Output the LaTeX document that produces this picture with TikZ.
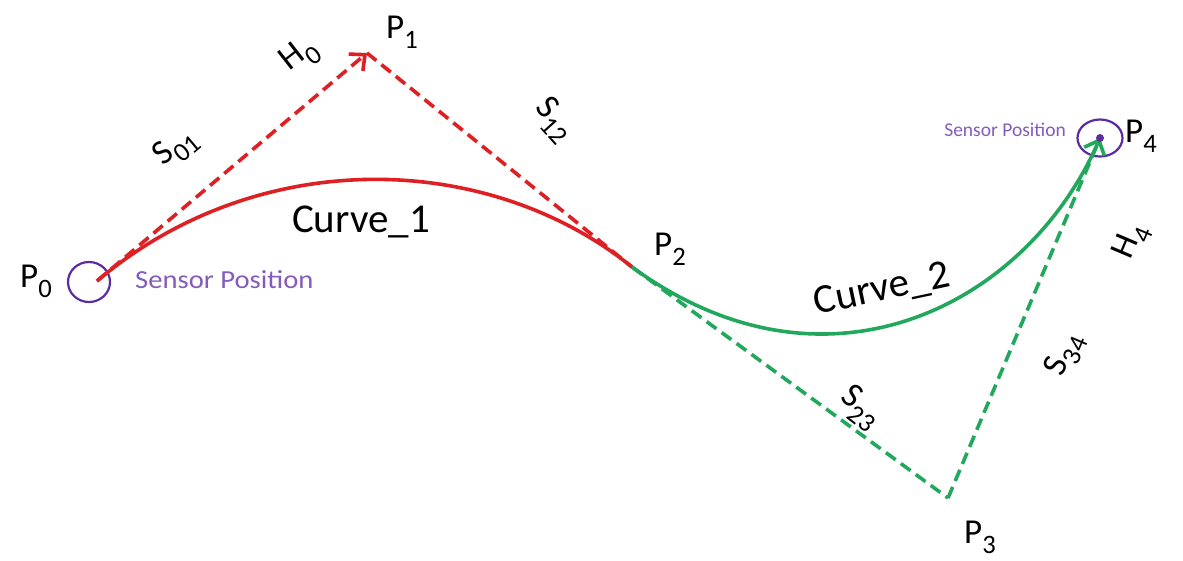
\documentclass[tikz,border=0pt]{standalone}
\usepackage{fontspec}
\setmainfont{Carlito}
\usetikzlibrary{arrows.meta,calc,shapes.geometric}
\definecolor{cred}{RGB}{222,32,36}
\definecolor{cgreen}{RGB}{34,168,92}
\definecolor{cpurple}{RGB}{92,44,160}
\definecolor{ctext}{RGB}{132,92,188}
\newcommand{\sbx}[1]{\raisebox{-0.28em}{\scalebox{0.76}{#1}}}
\begin{document}
\begin{tikzpicture}[x=1pt,y=-1pt,
  lbl/.style={font=\fontsize{35}{40}\selectfont, inner sep=0pt},
  curvelbl/.style={font=\fontsize{41}{46}\selectfont, inner sep=0pt},
  sensor/.style={text=ctext, inner sep=0pt},
  dashline/.style={line width=3.6pt, dash pattern=on 12pt off 6.5pt},
  solidline/.style={line width=3.6pt},
  ring/.style={draw=cpurple, line width=2.2pt, ellipse, inner sep=0pt},
  tipr/.style={-{Straight Barb[length=12pt,width=22pt]}}]
\fill[white] (0,0) rectangle (1183,560);
\useasboundingbox (0,0) rectangle (1183,560);
\coordinate (P0) at (97,281);
\coordinate (P1) at (367,53);
\coordinate (P2) at (632,267);
\coordinate (P3) at (948,498);
\coordinate (P4) at (1100,138);
% rings
\node[ring, minimum width=42pt, minimum height=40pt] (r0) at (89,282) {};
\node[ring, minimum width=45pt, minimum height=37pt] (r4) at (1100,138) {};
% dashed polygon
\draw[cred, dashline, tipr] (P0) -- (P1);
\draw[cred, dashline] (P1) -- (P2);
\draw[cgreen, dashline] (P2) -- (P3);
\draw[cgreen, dashline, tipr] (P3) -- (P4);
% curves
\draw[cred, solidline] (P0) .. controls ($(P0)!0.6!(P1)$) and ($(P2)!0.54!(P1)$) .. (P2);
\draw[cgreen, solidline] (P2) .. controls ($(P2)!0.62!(P3)$) and ($(P4)!0.46!(P3)$) .. (P4);
\fill[cpurple] (P4) circle (4pt);
% labels
\node[lbl] (lP0) at (36,281) {P\sbx{0}};
\node[lbl] (lP1) at (402,32) {P\sbx{1}};
\node[lbl] (lP2) at (670,249) {P\sbx{2}};
\node[lbl] (lP3) at (980,537) {P\sbx{3}};
\node[lbl] (lP4) at (1141,136) {P\sbx{4}};
\node[lbl, rotate=40] (lS01) at (176,148) {S\sbx{01}};
\node[lbl, rotate=38] (lH0) at (300,56) {H\sbx{0}};
\node[lbl, rotate=-48] (lS12) at (554,120) {S\sbx{12}};
\node[lbl, rotate=-38] (lS23) at (860,408) {S\sbx{23}};
\node[lbl, rotate=67] (lS34) at (1065,355) {S\sbx{34}};
\node[lbl, rotate=67] (lH4) at (1132,242) {H\sbx{4}};
\node[curvelbl] (c1) at (361,222) {Curve\_1};
\node[curvelbl, rotate=12] (c2) at (882,290) {Curve\_2};
\node[sensor, font=\fontsize{26}{30}\selectfont, anchor=west] (s0) at (135,280) {\scalebox{1.1}[1]{Sensor Position}};
\node[sensor, font=\fontsize{19.5}{22}\selectfont, anchor=east] (s4) at (1066,130) {Sensor Position};
\end{tikzpicture}
\end{document}
